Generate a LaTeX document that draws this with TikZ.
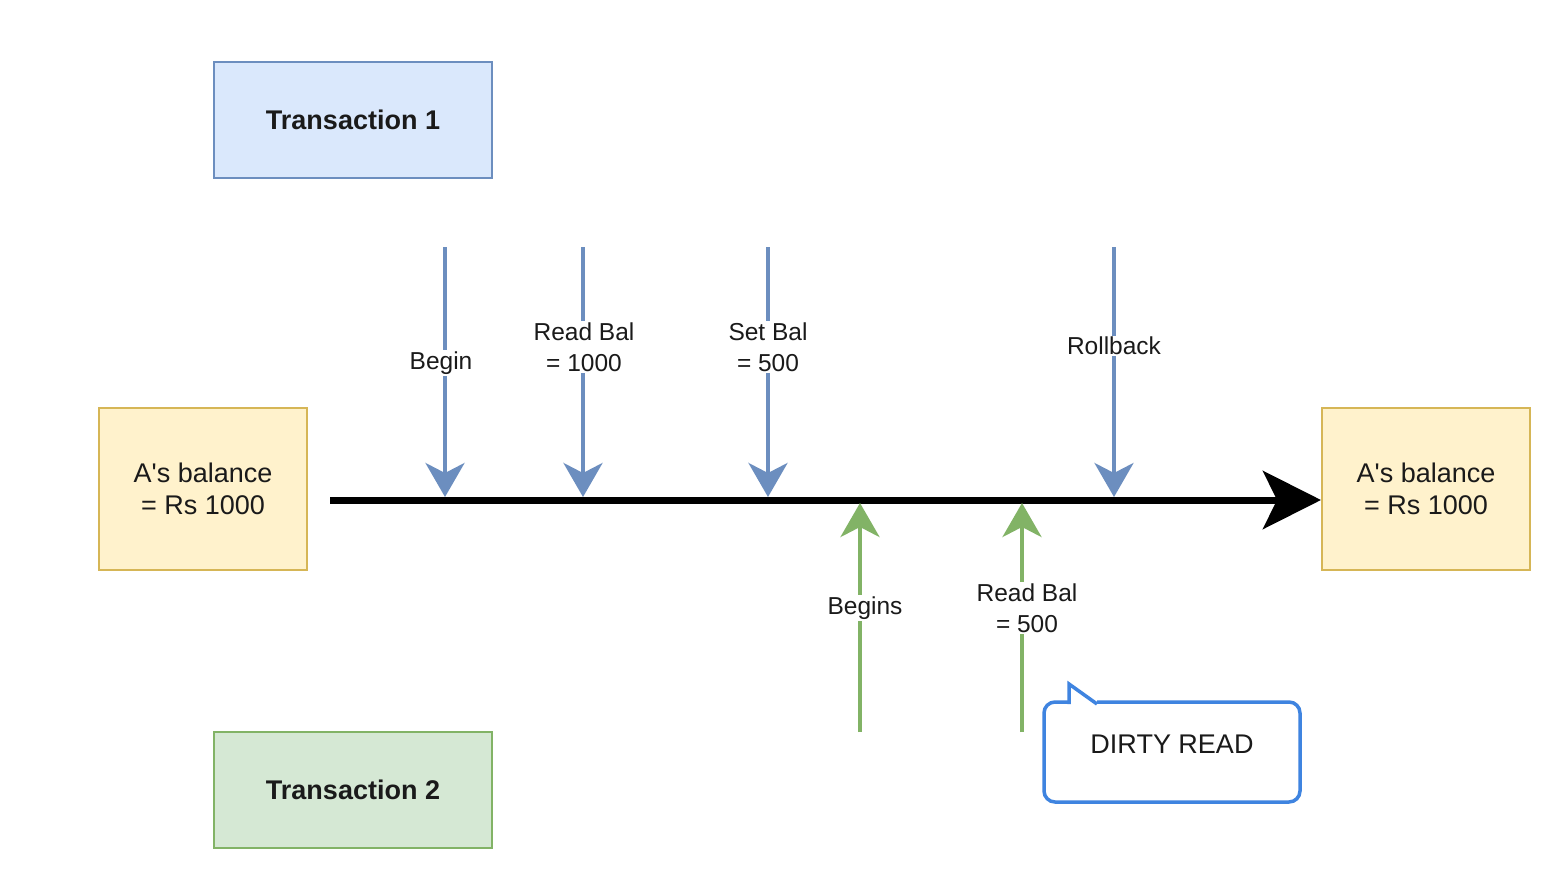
\documentclass[tikz,border=0pt]{standalone}
\usepackage{fontspec}
\setmainfont{Liberation Sans}
\usetikzlibrary{arrows.meta}
\definecolor{tblue}{HTML}{DAE8FC}
\definecolor{tbluel}{HTML}{6C8EBF}
\definecolor{tgreen}{HTML}{D5E8D4}
\definecolor{tgreenl}{HTML}{82B366}
\definecolor{tyel}{HTML}{FFF2CC}
\definecolor{tyell}{HTML}{D6B656}
\definecolor{callb}{HTML}{3F84E0}
\definecolor{txt}{HTML}{1A1A1A}
\tikzset{
  box/.style={draw, line width=1.5pt, minimum width=278pt, minimum height=116pt, inner sep=0pt,
    font=\fontsize{27}{32}\selectfont\bfseries, text=txt},
  balbox/.style={draw=tyell, fill=tyel, line width=1.5pt, minimum width=208pt, minimum height=162pt,
    inner sep=0pt, align=center, font=\fontsize{27}{32}\selectfont, text=txt},
  tonearrow/.style={draw=tbluel, line width=4pt, -{Stealth[length=34pt,width=39pt,inset=10pt]}},
  ttwoarrow/.style={draw=tgreenl, line width=4pt, -{Stealth[length=34pt,width=39pt,inset=10pt]}},
  lbl/.style={fill=white, inner sep=1.5pt, align=center, text=txt, font=\fontsize{24.5}{31}\selectfont},
  timeline/.style={draw=black, line width=7pt, -{Stealth[length=58pt,width=58pt,inset=14pt]}},
}
\begin{document}
\begin{tikzpicture}[x=1pt,y=-1pt]
\useasboundingbox[fill=white] (0,0) rectangle (1550,896);
% boxes
\node[box, draw=tbluel, fill=tblue] (t1) at (353,120) {Transaction 1};
\node[box, draw=tgreenl, fill=tgreen] (t2) at (353,790) {Transaction 2};
\node[balbox] (bl) at (203,489) {A\textquotesingle s balance\\= Rs 1000};
\node[balbox] (br) at (1426,489) {A\textquotesingle s balance\\= Rs 1000};
% timeline
\coordinate (ts) at (330,500);
\coordinate (te) at (1321,500);
\draw[timeline] (ts) -- (te);
% transaction 1 arrows
\coordinate (a1s) at (445,247); \coordinate (a1e) at (445,497);
\coordinate (a2s) at (583,247); \coordinate (a2e) at (583,497);
\coordinate (a3s) at (768,247); \coordinate (a3e) at (768,497);
\coordinate (a4s) at (1114,247); \coordinate (a4e) at (1114,497);
\draw[tonearrow] (a1s) -- node[lbl, pos=0.465, xshift=-4pt] (l1) {Begin} (a1e);
\draw[tonearrow] (a2s) -- node[lbl, pos=0.40, xshift=1pt] (l2) {Read Bal\\= 1000} (a2e);
\draw[tonearrow] (a3s) -- node[lbl, pos=0.40] (l3) {Set Bal\\= 500} (a3e);
\draw[tonearrow] (a4s) -- node[lbl, pos=0.396] (l4) {Rollback} (a4e);
% transaction 2 arrows
\coordinate (g1s) at (860,732); \coordinate (g1e) at (860,503);
\coordinate (g2s) at (1022,732); \coordinate (g2e) at (1022,503);
\draw[ttwoarrow] (g1s) -- node[lbl, pos=0.54, xshift=5pt] (l5) {Begins} (g1e);
\draw[ttwoarrow] (g2s) -- node[lbl, pos=0.541, xshift=5pt] (l6) {Read Bal\\= 500} (g2e);
% callout
\draw[callb, line width=3.5pt, fill=white, rounded corners=11pt]
  (1097,702) -- (1300,702) -- (1300,802) -- (1044,802) -- (1044,702) -- (1069,702);
\draw[callb, line width=3.5pt, line join=miter, fill=white]
  (1069,704) -- (1069,684) -- (1097,704);
\fill[white] (1071,701) -- (1071,690) -- (1089,704.5) -- cycle;
\node[text=txt, font=\fontsize{27}{32}\selectfont] (dr) at (1172,744) {DIRTY READ};
\end{tikzpicture}
\end{document}
